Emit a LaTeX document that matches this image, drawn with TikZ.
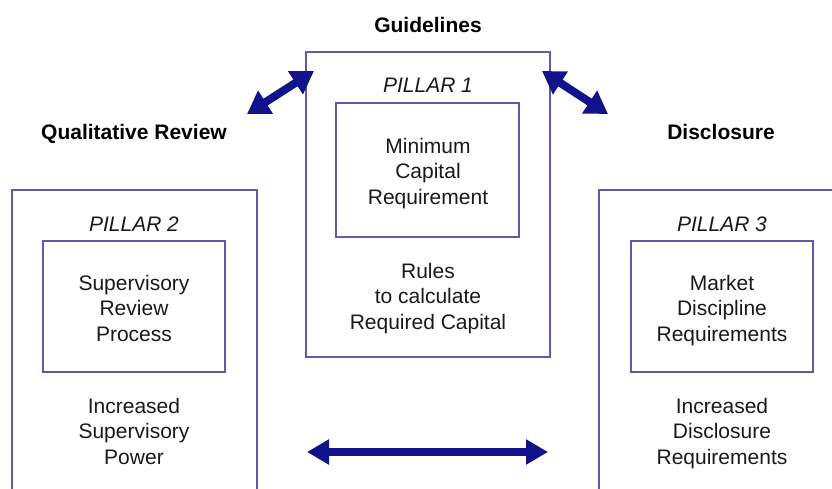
\documentclass[tikz,border=0pt]{standalone}
\usepackage{fontspec}
\setmainfont{Liberation Sans}
\usetikzlibrary{arrows.meta}
\definecolor{boxline}{RGB}{92,92,168}
\definecolor{arrowblue}{RGB}{18,18,138}
\tikzset{
  pillarbox/.style={draw=boxline, line width=1.5pt},
  bodytext/.style={align=center, inner sep=0pt, anchor=north, font=\fontsize{21}{25.3}\selectfont, text=black!90},
  pillartext/.style={inner sep=0pt, anchor=base, font=\fontsize{21}{25}\selectfont\itshape, text=black!90},
  headtext/.style={inner sep=0pt, anchor=base, font=\fontsize{21}{25}\selectfont\bfseries, text=black},
  bigarrow/.style={draw=arrowblue, line width=8pt, {Triangle[width=24pt,length=22pt]}-{Triangle[width=24pt,length=22pt]}},
  diagarrow/.style={draw=arrowblue, line width=8pt, {Triangle[width=26pt,length=22pt]}-{Triangle[width=26pt,length=22pt]}}
}
\begin{document}
\begin{tikzpicture}[x=1pt,y=-1pt]
\useasboundingbox (0,0) rectangle (832,489);
\clip (0,0) rectangle (832,489);
% outer pillar boxes
\draw[pillarbox] (306,52) rectangle (550,357);
\draw[pillarbox] (12,190) rectangle (257,520);
\draw[pillarbox] (599,190) rectangle (860,520);
% inner boxes
\draw[pillarbox] (336,103) rectangle (519,237);
\draw[pillarbox] (43,241) rectangle (225,372);
\draw[pillarbox] (631,241) rectangle (813,372);
% headings
\node[headtext] (hg) at (428,33) {Guidelines};
\node[headtext] (hq) at (134,140) {Qualitative Review};
\node[headtext] (hd) at (721,140) {Disclosure};
% pillar titles
\node[pillartext] (p1) at (428,93) {PILLAR 1};
\node[pillartext] (p2) at (134,231) {PILLAR 2};
\node[pillartext] (p3) at (722,231) {PILLAR 3};
% texts
\node[bodytext] (t1) at (428,138) {Minimum\\Capital\\Requirement};
\node[bodytext] (t1b) at (428,263) {Rules\\to calculate\\Required Capital};
\node[bodytext] (t2) at (134,275) {Supervisory\\Review\\Process};
\node[bodytext] (t2b) at (134,398) {Increased\\Supervisory\\Power};
\node[bodytext] (t3) at (722,275) {Market\\Discipline\\Requirements};
\node[bodytext] (t3b) at (722,398) {Increased\\Disclosure\\Requirements};
% arrows
\coordinate (la) at (247,114);
\coordinate (lb) at (314,71);
\coordinate (ra) at (542,71);
\coordinate (rb) at (608,114);
\coordinate (ba) at (307,452);
\coordinate (bb) at (548,452);
\draw[diagarrow] (la) -- (lb);
\draw[diagarrow] (ra) -- (rb);
\draw[bigarrow] (ba) -- (bb);
\end{tikzpicture}
\end{document}
